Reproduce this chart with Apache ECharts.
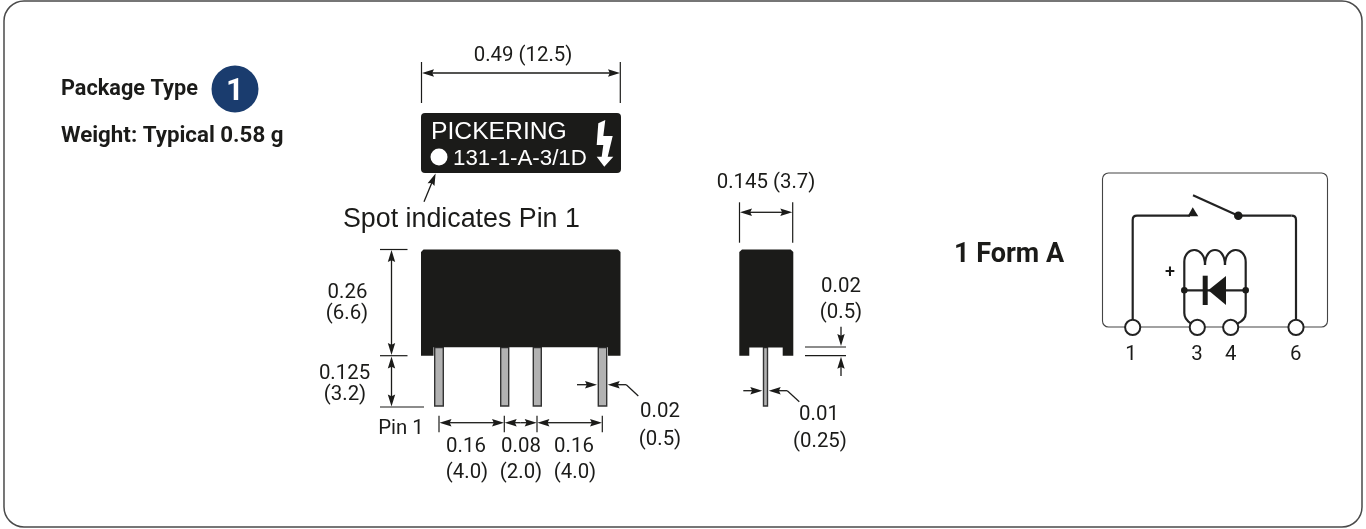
<!DOCTYPE html>
<html><head><meta charset="utf-8">
<style>html,body{margin:0;padding:0;background:#fff}#c{width:1366px;height:529px}</style>
<script src="https://cdn.jsdelivr.net/npm/echarts@6/dist/echarts.min.js"></script>
</head><body><div id="c"></div>
<script>
var INK='#1b1b19', WIRE='#222222', PIN='#b2b2b2', NAVY='#1a3c6e';
var DIN='Roboto', ARIAL='"Liberation Sans"';

// [x, y, text, font, colour, align]
var headingTexts=[
 [61,90,'Package Type','bold 21.7px '+DIN,INK,'left'],
 [61,136,'Weight: Typical 0.58 g','bold 22.3px '+DIN,INK,'left'],
 [235,92,'1','bold 31px '+DIN,'#fff','center'],
 [954,255,'1 Form A','bold 27px '+DIN,INK,'left']
];
var labelTexts=[
 [431,132,'PICKERING','24.7px '+ARIAL,'#fff','left'],
 [453,159,'131-1-A-3/1D','22.3px '+ARIAL,'#fff','left'],
 [343,220,'Spot indicates Pin 1','26.8px '+ARIAL,INK,'left']
];
var dimensionTexts=[
 [523,56,'0.49 (12.5)'],[766,183,'0.145 (3.7)'],
 [347.5,293,'0.26'],[347,314,'(6.6)'],[344.5,374,'0.125'],[345,395,'(3.2)'],
 [401,429,'Pin 1'],
 [466,447,'0.16'],[467,473,'(4.0)'],[521,447,'0.08'],[521,473,'(2.0)'],[574,447,'0.16'],[575,473,'(4.0)'],
 [660,412,'0.02'],[660,440,'(0.5)'],
 [841,287,'0.02'],[841,313,'(0.5)'],
 [819,415,'0.01'],[820,442,'(0.25)'],
 [1131,355,'1'],[1197,355,'3'],[1230.7,355,'4'],[1295.7,355,'6']
];
// [x, y, w, h, radius]
var frameRect=[4,1,1358,526,20];
var schematicRect=[1102.5,173,225,154,6];
var labelRect=[421,113,200,60,4];
var frontBody=[[421,252],[423.5,249.5],[618,249.5],[620.5,252],[620.5,355.7],[608,355.7],[608,347.3],[433.5,347.3],[433.5,355.7],[421,355.7]];
var sideBody=[[739.3,252],[742,249.5],[790.7,249.5],[793.3,252],[793.3,355.7],[782.7,355.7],[782.7,347.5],[749.3,347.5],[749.3,355.7],[739.3,355.7]];
var bolt=[[598.3,123.3],[605.3,120],[603.3,136],[612.7,136],[607.7,156.7],[613.3,156.7],[604.3,166.7],[596.7,156.7],[601.7,156.7],[603.3,145],[596.7,145]];
// [x1, x2] of each pin, and the shared top / bottom
var frontPins=[[434.7,443.3],[500.7,508.7],[533.3,541.3],[598.3,606.7]];
var sidePins=[[763.5,767.5]];
var pinTop=347.5, pinBottom=406;
// plain lines [x1,y1,x2,y2]
var extensionLines=[
 [421.5,62,421.5,103],[620.3,62,620.3,103],
 [380,249.5,407.5,249.5],[380,355.7,407.5,355.7],[380,407,424,407],
 [439,415.7,439,432.3],[504.3,415.7,504.3,432.3],[537,415.7,537,432.3],[602.3,415.7,602.3,432.3],
 [739.5,202.3,739.5,242.7],[792.7,202.3,792.7,242.7],
 [805,347,846,347],[805,355.7,846,355.7],
 [626.3,384.7,638.3,396],[787.3,390.7,799.3,401.7]
];
// arrows [tailX,tailY,tipX,tipY]
var dimensionArrows=[
 [523,73,422,73],[523,73,620,73],
 [391.5,300,391.5,250],[391.5,300,391.5,355],[391.5,380,391.5,356.5],[391.5,380,391.5,406.5],
 [470,422.7,439.5,422.7],[470,422.7,504,422.7],[520.5,422.7,504.7,422.7],[520.5,422.7,536.7,422.7],[570,422.7,537.4,422.7],[570,422.7,602,422.7],
 [577,384.7,597,384.7],[626.3,384.7,607.7,384.7],
 [766,212.3,740,212.3],[766,212.3,792.3,212.3],
 [841,326.7,841,346],[841,376,841,356.7],
 [743.3,390.7,762.3,390.7],[787.3,390.7,768.7,390.7],
 [424,201.7,435.6,173.5]
];
// schematic wires
var wireLines=[
 [1132.7,320,1132.7,220],[1137,215.7,1190,215.7],[1193,195.3,1238.3,215.7],[1238.3,215.7,1291.5,215.7],[1296,220,1296,320],
 [1184.3,290.3,1245.7,290.3],[1184.3,262,1184.3,313],[1245.7,262,1245.7,313]
];
// cubic curves [x1,y1,c1x,c1y,c2x,c2y,x2,y2]
var wireCurves=[
 [1132.7,220,1132.7,217,1134.5,215.7,1137,215.7],
 [1291.5,215.7,1294,215.7,1296,217,1296,220],
 [1184.3,262,1184.3,246,1205,245,1205,265],
 [1205,265,1205,245,1225,245,1225,265],
 [1225,265,1225,245,1245.7,246,1245.7,262],
 [1184.3,313,1184.3,318,1187,321,1191,323.5],
 [1245.7,313,1245.7,318,1243,321,1237.5,323.5]
];
var diodeTriangle=[[1208.3,290.3],[1226,276],[1226,305]];
var diodeBar=[1202.7,275.7,5,29.3,0];
var contactTriangle=[[1192.7,207.3],[1187.7,216.2],[1198.3,216.2]];
// circles [x, y, r]
var terminals=[[1132.7,327.3],[1197.3,327.3],[1230.7,327.3],[1296,327.3]];
var junctionDots=[[1238.3,215.7,4.3],[1184.3,290.3,3.3],[1245.7,290.3,3.3]];

var W=1366,H=529;
function pts(api,a){return a.map(function(p){return api.coord(p);});}
function rectEl(api,r,style){
 var a=api.coord([r[0],r[1]]),b=api.coord([r[0]+r[2],r[1]+r[3]]);
 return {type:'rect',shape:{x:a[0],y:a[1],width:b[0]-a[0],height:b[1]-a[1],r:r[4]},style:style};
}
function polyEl(api,a,fill){return {type:'polygon',shape:{points:pts(api,a)},style:{fill:fill}};}
function lineEl(api,l,w,c){
 var a=api.coord([l[0],l[1]]),b=api.coord([l[2],l[3]]);
 return {type:'line',shape:{x1:a[0],y1:a[1],x2:b[0],y2:b[1]},style:{stroke:c,lineWidth:w,fill:null}};
}
function curveEl(api,k,w,c){
 var a=api.coord([k[0],k[1]]),p=api.coord([k[2],k[3]]),q=api.coord([k[4],k[5]]),b=api.coord([k[6],k[7]]);
 return {type:'bezierCurve',shape:{x1:a[0],y1:a[1],cpx1:p[0],cpy1:p[1],cpx2:q[0],cpy2:q[1],x2:b[0],y2:b[1]},style:{stroke:c,lineWidth:w,fill:null}};
}
function circleEl(api,c,r,style){var a=api.coord([c[0],c[1]]);return {type:'circle',shape:{cx:a[0],cy:a[1],r:r},style:style};}
function textEl(api,t){
 var a=api.coord([t[0],t[1]]);
 return {type:'text',style:{x:a[0],y:a[1],text:t[2],font:t[3]||('20.4px '+DIN),fill:t[4]||INK,align:t[5]||'center',verticalAlign:'middle'}};
}
function arrowEls(api,r){
 var tail=api.coord([r[0],r[1]]),tip=api.coord([r[2],r[3]]);
 var dx=tip[0]-tail[0],dy=tip[1]-tail[1],n=Math.sqrt(dx*dx+dy*dy);dx/=n;dy/=n;
 var L=12,Wd=3.7;
 return [
  {type:'line',shape:{x1:tail[0],y1:tail[1],x2:tip[0]-dx*L*0.8,y2:tip[1]-dy*L*0.8},style:{stroke:INK,lineWidth:1.3,fill:null}},
  {type:'polygon',shape:{points:[tip,[tip[0]-dx*L-dy*Wd,tip[1]-dy*L+dx*Wd],[tip[0]-dx*L*0.85,tip[1]-dy*L*0.85],[tip[0]-dx*L+dy*Wd,tip[1]-dy*L-dx*Wd]]},style:{fill:INK}}
 ];
}
function pinEls(api,list){
 return list.map(function(p){
  return rectEl(api,[p[0],pinTop,p[1]-p[0],pinBottom-pinTop,0],{fill:PIN,stroke:'#333',lineWidth:1.4});
 });
}
function renderAll(params,api){
 var c=[];
 c.push(rectEl(api,frameRect,{fill:'#fff',stroke:'#4a4a4a',lineWidth:1.5}));
 c.push(rectEl(api,schematicRect,{fill:'none',stroke:'#444',lineWidth:1.1}));
 c=c.concat(pinEls(api,frontPins),pinEls(api,sidePins));
 c.push(polyEl(api,frontBody,INK),polyEl(api,sideBody,INK));
 c.push(rectEl(api,labelRect,{fill:INK}));
 c.push(polyEl(api,bolt,'#fff'));
 c.push(circleEl(api,[439,157],8.5,{fill:'#fff'}));
 c.push(circleEl(api,[235,89],23.5,{fill:NAVY}));
 extensionLines.forEach(function(l){c.push(lineEl(api,l,1.2,INK));});
 dimensionArrows.forEach(function(a){c=c.concat(arrowEls(api,a));});
 wireLines.forEach(function(l){c.push(lineEl(api,l,2.2,WIRE));});
 wireCurves.forEach(function(k){c.push(curveEl(api,k,2.2,WIRE));});
 c.push(polyEl(api,diodeTriangle,INK),polyEl(api,contactTriangle,INK));
 c.push(rectEl(api,diodeBar,{fill:INK}));
 terminals.forEach(function(t){c.push(circleEl(api,t,7.6,{fill:'#fff',stroke:WIRE,lineWidth:2}));});
 junctionDots.forEach(function(d){c.push(circleEl(api,d,d[2],{fill:INK}));});
 headingTexts.concat(labelTexts,dimensionTexts).forEach(function(t){c.push(textEl(api,t));});
 c.push(textEl(api,[1170,272,'+','500 18px '+DIN,INK,'center']));
 return {type:'group',children:c};
}
var chart=echarts.init(document.getElementById('c'),null,{renderer:'canvas'});
chart.setOption({
 animation:false,
 backgroundColor:'#fff',
 grid:{left:0,right:0,top:0,bottom:0},
 xAxis:{type:'value',min:0,max:W,show:false},
 yAxis:{type:'value',min:0,max:H,inverse:true,show:false},
 series:[{type:'custom',silent:true,clip:false,data:[[0,0]],renderItem:renderAll}]
});
</script></body></html>
